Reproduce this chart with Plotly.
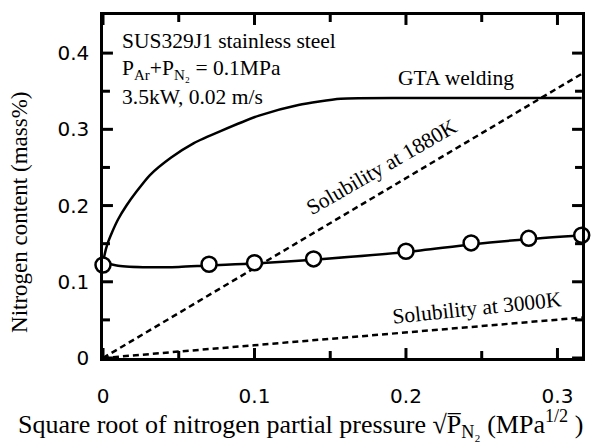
import plotly.graph_objects as go

# Measured data (open circles)
meas_x = [0.0, 0.07, 0.1, 0.139, 0.2, 0.243, 0.281, 0.316]
meas_y = [0.122, 0.123, 0.125, 0.130, 0.140, 0.151, 0.157, 0.161]

# Smooth line through measured data
fit_x = [0.0, 0.01, 0.03, 0.05, 0.07, 0.1, 0.139, 0.2, 0.243, 0.281, 0.316]
fit_y = [0.126, 0.121, 0.119, 0.1195, 0.1215, 0.124, 0.129, 0.139, 0.149, 0.156, 0.161]

# GTA welding curve
gta_x = [0.0, 0.001, 0.003, 0.006, 0.01, 0.0155, 0.022, 0.031, 0.045, 0.06, 0.078, 0.103, 0.129, 0.157, 0.2, 0.316]
gta_y = [0.122, 0.135, 0.15, 0.165, 0.182, 0.2, 0.218, 0.24, 0.263, 0.282, 0.298, 0.318, 0.332, 0.34, 0.341, 0.341]

# Solubility lines
sol1880_x = [0.0, 0.3162]
sol1880_y = [0.0, 0.373]
sol3000_x = [0.0, 0.3162]
sol3000_y = [0.0, 0.053]

x_ticks = [0, 0.1, 0.2, 0.3]
x_ticklabels = ["0", "0.1", "0.2", "0.3"]
y_ticks = [0, 0.1, 0.2, 0.3, 0.4]
y_ticklabels = ["0", "0.1", "0.2", "0.3", "0.4"]
x_minor = [0.05, 0.15, 0.25]
y_minor = [0.05, 0.15, 0.25, 0.35]

x_range = [0, 0.3162]
y_range = [0, 0.45]

W, H = 597, 447
M = dict(l=103, r=12, t=14, b=89)
plot_w = W - M["l"] - M["r"]
plot_h = H - M["t"] - M["b"]
# data units per screen pixel (used for tick-mark lengths)
ux = (x_range[1] - x_range[0]) / plot_w
uy = (y_range[1] - y_range[0]) / plot_h

serif = "Liberation Serif, Times New Roman, serif"
sans = "DejaVu Sans, sans-serif"

fig = go.Figure()
fig.add_trace(go.Scatter(x=gta_x, y=gta_y, mode="lines", line=dict(color="black", width=2.5, shape="spline", smoothing=0.6)))
fig.add_trace(go.Scatter(x=sol1880_x, y=sol1880_y, mode="lines", line=dict(color="black", width=2.5, dash="6px,4px")))
fig.add_trace(go.Scatter(x=sol3000_x, y=sol3000_y, mode="lines", line=dict(color="black", width=2.5, dash="6px,4px")))
fig.add_trace(go.Scatter(x=fit_x, y=fit_y, mode="lines", line=dict(color="black", width=2.5, shape="spline", smoothing=0.8)))
fig.add_trace(go.Scatter(x=meas_x, y=meas_y, mode="markers", cliponaxis=False,
                         marker=dict(symbol="circle", size=15, color="white", line=dict(color="black", width=2.5))))

# Inside tick marks on all four sides, built from the tick arrays
tx, ty = [], []
for vals, length in ((x_ticks, 10), (x_minor, 7)):
    for v in vals:
        tx += [v, v, None, v, v, None]
        ty += [y_range[0], y_range[0] + length * uy, None, y_range[1], y_range[1] - length * uy, None]
for vals, length in ((y_ticks, 10), (y_minor, 7)):
    for v in vals:
        ty += [v, v, None, v, v, None]
        tx += [x_range[0], x_range[0] + length * ux, None, x_range[1], x_range[1] - length * ux, None]
fig.add_trace(go.Scatter(x=tx, y=ty, mode="lines", line=dict(color="black", width=3),
                         cliponaxis=False, hoverinfo="skip"))

def axis_style(ticks, labels, rng, ticklen, standoff):
    return dict(
        range=rng, tickmode="array", tickvals=ticks, ticktext=labels,
        showline=True, linecolor="black", linewidth=2.5, mirror=True,
        ticks="outside", ticklen=ticklen, tickwidth=1, tickcolor="rgba(0,0,0,0)",
        showgrid=False, zeroline=False, ticklabelstandoff=standoff,
        tickfont=dict(family=sans, size=20, color="black"),
    )

fig.update_layout(
    xaxis=axis_style(x_ticks, x_ticklabels, x_range, 4, 14),
    yaxis=axis_style(y_ticks, y_ticklabels, y_range, 1, 6),
)

annots = [
    dict(x=0.011, y=0.4157, text="SUS329J1 stainless steel", xanchor="left", yanchor="middle"),
    dict(x=0.011, y=0.379, text="P<sub>Ar</sub>+P<sub>N₂</sub> = 0.1MPa", xanchor="left", yanchor="middle"),
    dict(x=0.011, y=0.3425, text="3.5kW, 0.02 m/s", xanchor="left", yanchor="middle"),
    dict(x=0.233, y=0.367, text="GTA welding", xanchor="center", yanchor="middle"),
    dict(x=0.184, y=0.25, text="Solubility at 1880K", xanchor="center", yanchor="middle", textangle=-30),
    dict(x=0.247, y=0.066, text="Solubility at 3000K", xanchor="center", yanchor="middle", textangle=-6),
]
for a in annots:
    fig.add_annotation(xref="x", yref="y", showarrow=False, font=dict(family=serif, size=21.5, color="black"), **a)

# Axis titles
fig.add_annotation(xref="paper", yref="paper", x=(19 - 103) / plot_w, y=(358 - 212) / plot_h, xanchor="center", yanchor="middle",
                   text="Nitrogen content (mass%)", textangle=-90, showarrow=False,
                   font=dict(family=serif, size=23, color="black"))
fig.add_annotation(xref="paper", yref="paper", x=(15 - 103) / plot_w, y=(358 - 424) / plot_h, xanchor="left", yanchor="middle",
                   text="Square root of nitrogen partial pressure √P̅<sub>N₂</sub> (MPa<sup>1/2</sup> )", showarrow=False,
                   font=dict(family=serif, size=26, color="black"))

fig.update_layout(
    width=W, height=H,
    margin=M,
    paper_bgcolor="white", plot_bgcolor="white",
    showlegend=False,
)

fig.write_html("out.html")
